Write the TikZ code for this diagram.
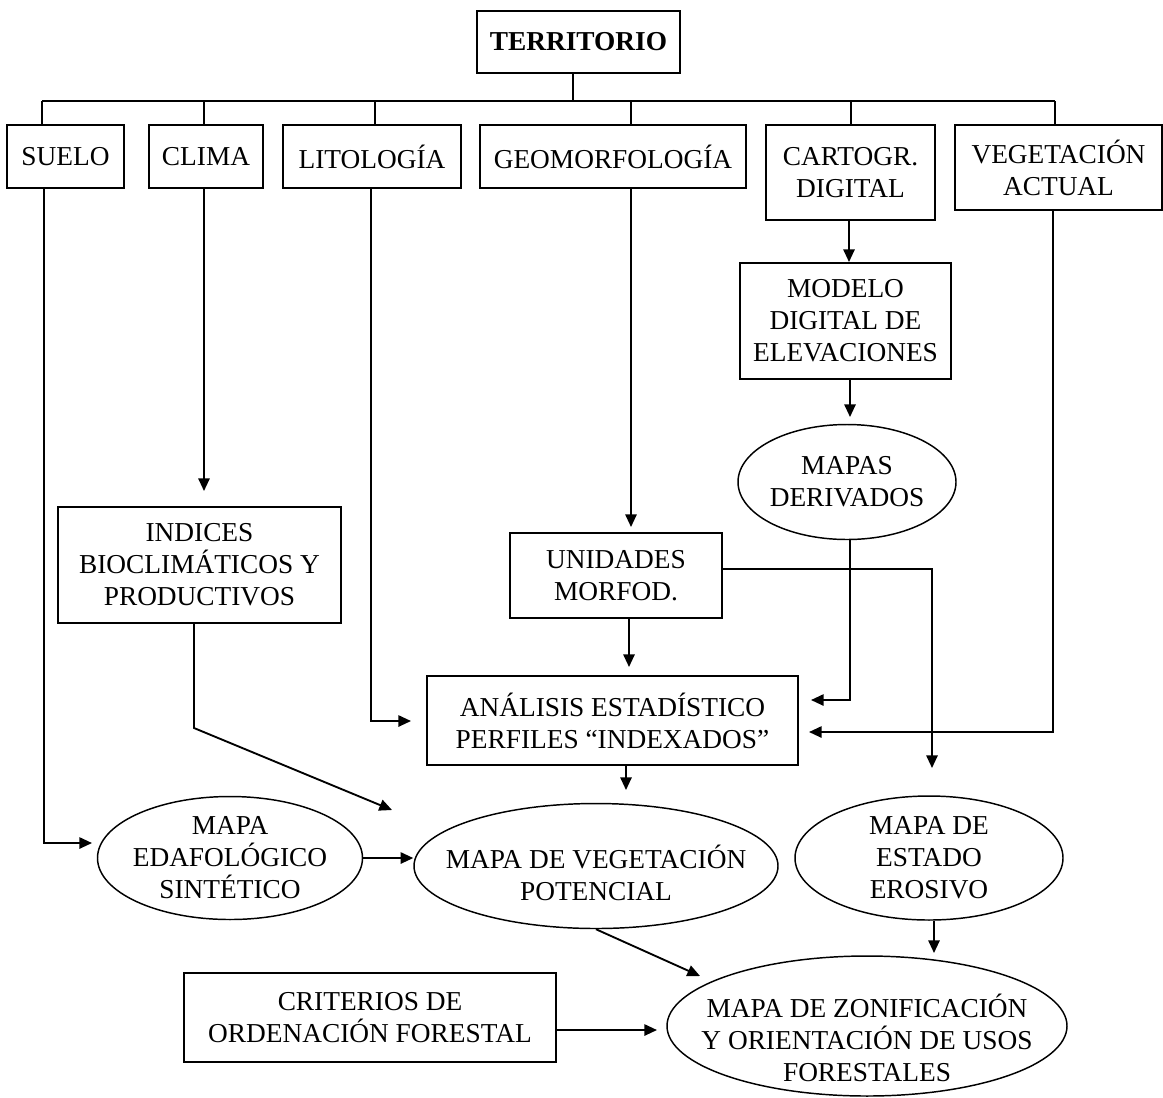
\documentclass[tikz,border=0pt]{standalone}
\usepackage{fontspec}
\setmainfont{Liberation Serif}
\usetikzlibrary{shapes.geometric,arrows.meta,calc}
\begin{document}
\begin{tikzpicture}[x=0.75pt,y=-0.75pt,
  every node/.style={font=\fontsize{20.5}{24}\selectfont, align=center, inner sep=0pt},
  box/.style={draw, line width=1.1pt, rectangle},
  ell/.style={draw, line width=1.1pt, ellipse},
  conn/.style={line width=1.4pt},
  arr/.style={conn, -{Triangle[length=9.5pt,width=8.5pt]}}]
\useasboundingbox (0,0) rectangle (1163,1097);
\fill[white] (0,0) rectangle (1163,1097);

% top
\node[box, minimum width=152.25pt, minimum height=46.5pt] (terr) at (578.5,42) {\textbf{TERRITORIO}};
\node[box, minimum width=87.75pt, minimum height=47.25pt] (suelo) at (65.5,156.5) {SUELO};
\node[box, minimum width=85.5pt, minimum height=47.25pt] (clima) at (206,156.5) {CLIMA};
\node[box, minimum width=133.5pt, minimum height=47.25pt] (lito) at (372,156.5) {LITOLOGÍA};
\node[box, minimum width=199.5pt, minimum height=47.25pt] (geo) at (613,156.5) {GEOMORFOLOGÍA};
\node[box, minimum width=126.75pt, minimum height=71.25pt] (carto) at (850.5,172.5) {CARTOGR.\\DIGITAL};
\node[box, minimum width=155.25pt, minimum height=63.75pt] (veget) at (1058.5,167.5) {VEGETACIÓN\\ACTUAL};

% middle
\node[box, minimum width=158.25pt, minimum height=87pt] (modelo) at (845.5,321) {MODELO\\DIGITAL DE\\ELEVACIONES};
\node[ell, minimum width=163.5pt, minimum height=86.25pt, label={center:MAPAS\\DERIVADOS}] (mapder) at (847,482) {};
\node[box, minimum width=212.25pt, minimum height=87pt] (indices) at (199.5,565) {INDICES\\BIOCLIMÁTICOS Y\\PRODUCTIVOS};
\node[box, minimum width=159pt, minimum height=63.75pt] (unid) at (616,575.5) {UNIDADES\\MORFOD.};
\node[box, minimum width=278.25pt, minimum height=66.75pt] (anal) at (612.5,720.5) {ANÁLISIS ESTADÍSTICO\\PERFILES “INDEXADOS”};

% bottom
\node[ell, minimum width=198.75pt, minimum height=92.25pt, label={center:MAPA\\EDAFOLÓGICO\\SINTÉTICO}] (edaf) at (230,858) {};
\node[ell, minimum width=273pt, minimum height=93.75pt, label={[yshift=-5pt]center:MAPA DE VEGETACIÓN\\POTENCIAL}] (veg) at (596,866) {};
\node[ell, minimum width=201pt, minimum height=93pt, label={center:MAPA DE\\ESTADO\\EROSIVO}] (estado) at (929,858) {};
\node[box, minimum width=279pt, minimum height=66.75pt] (crit) at (370,1017.5) {CRITERIOS DE\\ORDENACIÓN FORESTAL};
\node[ell, minimum width=300pt, minimum height=105pt, label={[yshift=-9pt]center:MAPA DE ZONIFICACIÓN\\Y ORIENTACIÓN DE USOS\\FORESTALES}] (zonif) at (867,1026) {};

% bus
\coordinate (bL) at (42,101);
\coordinate (bR) at (1055,101);
\coordinate (bT) at (573,101);
\coordinate (b1) at (42,101);
\coordinate (b2) at (204,101);
\coordinate (b3) at (375,101);
\coordinate (b4) at (631,101);
\coordinate (b5) at (851,101);
\coordinate (b6) at (1055,101);
\draw[conn] (terr.south -| bT) -- (bT);
\draw[conn] (bL) -- (bR);
\draw[conn] (b1) -- (b1 |- suelo.north);
\draw[conn] (b2) -- (b2 |- clima.north);
\draw[conn] (b3) -- (b3 |- lito.north);
\draw[conn] (b4) -- (b4 |- geo.north);
\draw[conn] (b5) -- (b5 |- carto.north);
\draw[conn] (b6) -- (b6 |- veget.north);

% connectors
\coordinate (sBend) at (44,843);
\coordinate (sTip) at (92,843);
\draw[arr] (suelo.south -| sBend) -- (sBend) -- (sTip);

\coordinate (cTip) at (204,491);
\draw[arr] (clima.south -| cTip) -- (cTip);

\coordinate (iBend) at (194,728);
\coordinate (iTip) at (392,810);
\draw[arr] (indices.south -| iBend) -- (iBend) -- (iTip);

\coordinate (lBend) at (371,721);
\coordinate (lTip) at (411,721);
\draw[arr] (lito.south -| lBend) -- (lBend) -- (lTip);

\coordinate (gTip) at (631,527);
\draw[arr] (geo.south -| gTip) -- (gTip);

\coordinate (cmTip) at (849,262);
\draw[arr] (carto.south -| cmTip) -- (cmTip);

\coordinate (mdTip) at (850,417);
\draw[arr] (modelo.south -| mdTip) -- (mdTip);

\coordinate (dBend) at (850,700);
\coordinate (dTip) at (811,700);
\draw[arr] (mapder.south -| dBend) -- (dBend) -- (dTip);

\coordinate (vBend) at (1053,732);
\coordinate (vTip) at (809,732);
\draw[arr] (veget.south -| vBend) -- (vBend) -- (vTip);

\coordinate (uTip) at (629,667);
\draw[arr] (unid.south -| uTip) -- (uTip);

\coordinate (eBend) at (932,569);
\coordinate (eTip) at (932,768);
\draw[arr] (unid.east |- eBend) -- (eBend) -- (eTip);

\coordinate (aTip) at (626,790);
\draw[arr] (anal.south -| aTip) -- (aTip);

\draw[arr] (edaf.east) -- (edaf.east -| veg.west);

\coordinate (vzTip) at (700,976);
\draw[arr] (veg.south) -- (vzTip);

\coordinate (ezTip) at (934,953);
\draw[arr] (estado.south -| ezTip) -- (ezTip);

\coordinate (czTip) at (657,1030);
\draw[arr] (crit.east |- czTip) -- (czTip);
\end{tikzpicture}
\end{document}
